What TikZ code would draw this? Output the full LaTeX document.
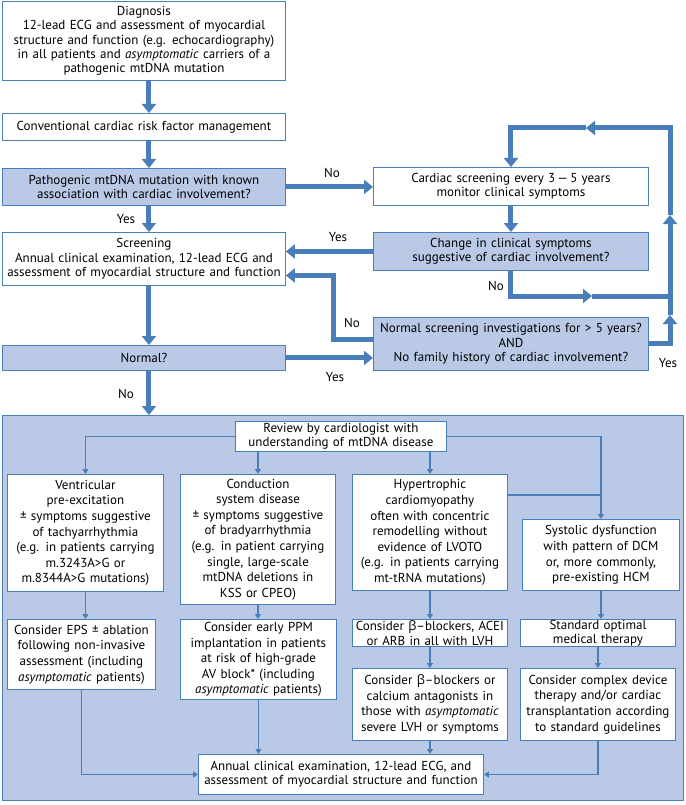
\documentclass[tikz,border=0pt]{standalone}
\usepackage{fontspec}
\setmainfont{PT Sans}
\newfontfamily\grkfont{Open Sans}
\usetikzlibrary{positioning}
\usetikzlibrary{arrows.meta}
\definecolor{flowblue}{RGB}{74,126,187}
\definecolor{flowfill}{RGB}{185,201,230}
\tikzset{stepbox/.style={rectangle,draw=flowblue,fill=white,line width=0.9pt,
inner sep=0pt,align=center,anchor=north west,font=\fontsize{13}{14.3}\selectfont}}
\tikzset{askbox/.style={stepbox,fill=flowfill}}
\tikzset{carebox/.style={stepbox,font=\fontsize{13}{15.6}\selectfont}}
\tikzset{bigarrow/.style={draw=flowblue,line width=5pt,-{Triangle[length=9pt,width=14pt]}}}
\tikzset{bigline/.style={draw=flowblue,line width=5pt}}
\tikzset{smallarrow/.style={draw=flowblue,line width=1.2pt,-{Triangle[length=5pt,width=6pt]}}}
\tikzset{smallline/.style={draw=flowblue,line width=1.2pt}}
\tikzset{answer/.style={font=\fontsize{13}{14}\selectfont}}

\begin{document}
\begin{tikzpicture}[x=1pt,y=-1pt]
        \useasboundingbox (0,0) rectangle (685,805);

        \node[stepbox,text width=283pt,minimum height=79pt] (diag) at (2,1) {Diagnosis\\12-lead ECG and assessment of myocardial\\structure and function (e.g. echocardiography)\\in all patients and \emph{asymptomatic} carriers of a\\pathogenic mtDNA mutation};
        \node[stepbox,text width=283pt,minimum height=27pt] (conv) at (2,113) {Conventional cardiac risk factor management};
        \node[askbox,text width=283pt,minimum height=37pt] (path) at (2,168) {Pathogenic mtDNA mutation with known\\association with cardiac involvement?};
        \node[stepbox,text width=283pt,minimum height=53pt] (scr) at (2,232) {Screening\\Annual clinical examination, 12-lead ECG and\\assessment of myocardial structure and function};
        \node[askbox,text width=283pt,minimum height=25pt] (norm) at (2,345) {Normal?};

        \node[stepbox,text width=275pt,minimum height=38pt] (cs) at (373,167) {Cardiac screening every 3\,---\,5 years\\monitor clinical symptoms};
        \node[askbox,text width=275pt,minimum height=38pt] (ch) at (373,232) {Change in clinical symptoms\\suggestive of cardiac involvement?};
        \node[askbox,text width=275pt,minimum height=53pt] (ns) at (373,317) {Normal screening investigations for > 5 years?\\AND\\No family history of cardiac involvement?};

        \draw[bigarrow] ([xshift=5pt]diag.south) -- ([xshift=5pt]conv.north);
        \draw[bigarrow] ([xshift=5pt]conv.south) -- ([xshift=5pt]path.north);
        \draw[bigarrow] ([xshift=5pt]path.south) -- ([xshift=5pt]scr.north);
        \draw[bigarrow] ([xshift=5pt]scr.south) -- ([xshift=5pt]norm.north);
        \draw[bigarrow] (path.east) -- (path.east -| cs.west);
        \draw[bigarrow] (cs.south) -- (ch.north);
        \draw[bigarrow] (ch.west) -- (ch.west -| scr.east);
        \draw[bigarrow] (norm.east) -- (norm.east -| ns.west);

        \coordinate (noTurn) at (333,300);
        \draw[bigarrow] ([yshift=4.5pt]ns.west) -| (noTurn) |- ([yshift=-16.5pt]scr.east);

        \coordinate (loopUpA) at (670,315);
        \coordinate (loopUpB) at (670,215);
        \coordinate (loopLeft) at (586,128);
        \coordinate (loopNo) at (592,296);
        \draw[bigarrow] (ns.east) -| (loopUpA);
        \draw[bigarrow] (loopUpA) -- (loopUpB);
        \draw[bigarrow] (loopUpB) |- (loopLeft);
        \draw[bigarrow] (loopLeft) -| (cs.north);
        \draw[bigarrow] (ch.south) |- (loopNo);
        \draw[bigline] (loopNo) -- (loopNo -| loopUpA);

        \node[answer] (noPath) at (332,173) {No};
        \node[answer] (yesPath) at (126,219) {Yes};
        \node[answer] (yesChange) at (338,237) {Yes};
        \node[answer] (noChange) at (496,286) {No};
        \node[answer] (noScreen) at (352,323) {No};
        \node[answer] (yesNormal) at (335,377) {Yes};
        \node[answer] (yesScreen) at (668,363) {Yes};
        \node[answer] (noNormal) at (126,394) {No};

        \node[rectangle,draw=flowblue,fill=flowfill,line width=0.9pt,inner sep=0pt,anchor=north west,
              minimum width=681pt,minimum height=385pt] (panel) at (2,415) {};
        \draw[bigarrow] ([xshift=5pt]norm.south) -- ([xshift=5pt]norm.south |- panel.north);

        \node[carebox,text width=211pt,minimum height=30pt,font=\fontsize{13}{14.3}\selectfont] (rev) at (235,421) {Review by cardiologist with\\understanding of mtDNA disease};
        \node[carebox,text width=156pt,minimum height=117pt] (vent) at (7,474) {Ventricular\\pre-excitation\\± symptoms suggestive\\of tachyarrhythmia\\(e.g. in patients carrying\\m.3243A>G or\\m.8344A>G mutations)};
        \node[carebox,text width=155pt,minimum height=130pt] (cond) at (180,474) {Conduction\\system disease\\± symptoms suggestive\\of bradyarrhythmia\\(e.g. in patient carrying\\single, large-scale\\mtDNA deletions in\\KSS or CPEO)};
        \node[carebox,text width=155pt,minimum height=116pt] (hyp) at (352,474) {Hypertrophic\\cardiomyopathy\\often with concentric\\remodelling without\\evidence of LVOTO\\(e.g. in patients carrying\\mt-tRNA mutations)};
        \node[carebox,text width=157pt,minimum height=71pt] (sys) at (522,519) {Systolic dysfunction\\with pattern of DCM\\or, more commonly,\\pre-existing HCM};

        \node[carebox,text width=148pt,minimum height=70pt] (eps) at (7,619) {Consider EPS ± ablation\\following non-invasive\\assessment (including\\\emph{asymptomatic} patients)};
        \node[carebox,text width=156pt,minimum height=80pt] (ppm) at (180,619) {Consider early PPM\\implantation in patients\\at risk of high-grade\\AV block* (including\\\emph{asymptomatic} patients)};
        \node[carebox,text width=155pt,minimum height=27pt,font=\fontsize{13}{14.3}\selectfont] (acei) at (352,619) {Consider {\grkfont β}–blockers, ACEI\\or ARB in all with LVH};
        \node[carebox,text width=155pt,minimum height=27pt,font=\fontsize{13}{14.3}\selectfont] (std) at (520,619) {Standard optimal\\medical therapy};
        \node[carebox,text width=155pt,minimum height=72pt] (calc) at (352,668) {Consider {\grkfont β}–blockers or\\calcium antagonists in\\those with \emph{asymptomatic}\\severe LVH or symptoms};
        \node[carebox,text width=155pt,minimum height=72pt] (cmplx) at (520,668) {Consider complex device\\therapy and/or cardiac\\transplantation according\\to standard guidelines};
        \node[carebox,text width=285pt,minimum height=40pt,font=\fontsize{13}{14.3}\selectfont] (ann) at (198,754) {Annual clinical examination, 12-lead ECG, and\\assessment of myocardial structure and function};

        \draw[smallarrow] (rev.west) -| (vent.north);
        \draw[smallarrow] (rev.south -| cond.north) -- (cond.north);
        \draw[smallarrow] (rev.south -| hyp.north) -- (hyp.north);
        \draw[smallarrow] (rev.east) -| (sys.north);
        \draw[smallline] ([yshift=-21pt]hyp.north east) -- ([yshift=-21pt]hyp.north east -| sys.north);

        \draw[smallarrow] (vent.south) -- (vent.south |- eps.north);
        \draw[smallarrow] (cond.south) -- (cond.south |- ppm.north);
        \draw[smallarrow] (hyp.south) -- (acei.north);
        \draw[smallarrow] (sys.south) -- (sys.south |- std.north);
        \draw[smallarrow] (acei.south) -- (calc.north);
        \draw[smallarrow] (std.south) -- (cmplx.north);

        \draw[smallarrow] (eps.south) |- (ann.west);
        \draw[smallarrow] (ppm.south) -- (ppm.south |- ann.north);
        \draw[smallarrow] (calc.south) -- (calc.south |- ann.north);
        \draw[smallarrow] (cmplx.south) |- (ann.east);

    \end{tikzpicture}
\end{document}
